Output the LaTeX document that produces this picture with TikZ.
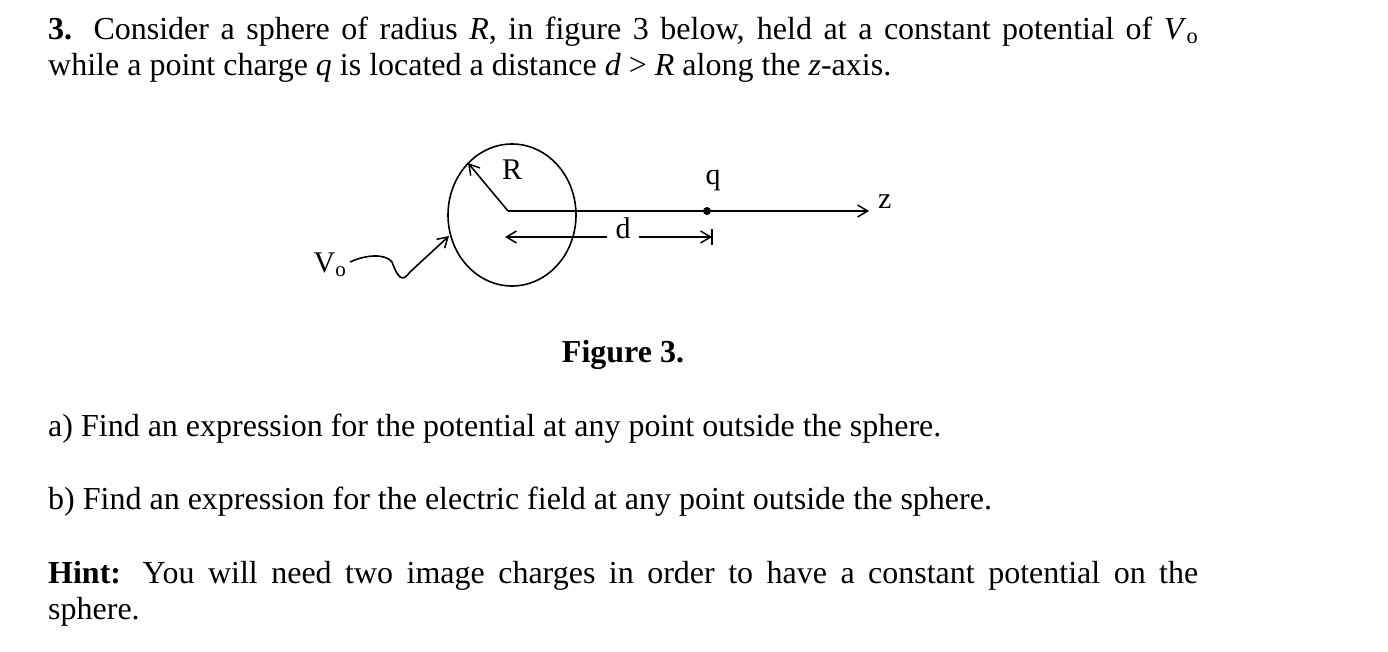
\documentclass[tikz,border=0pt]{standalone}
\usepackage{fontspec}
\setmainfont{Liberation Serif}
\usetikzlibrary{arrows.meta,decorations.pathmorphing}
\begin{document}
\begin{tikzpicture}[x=1pt,y=-1pt,
  txt/.style={anchor=base west,inner sep=0pt,font=\fontsize{32}{38}\selectfont},
  lbl/.style={inner sep=0pt,font=\fontsize{30}{34}\selectfont},
  ar/.style={-{Straight Barb[length=10pt,width=12pt,line width=1.5pt]},line width=1.6pt}]
\useasboundingbox (0,0) rectangle (1388,652);
\node[txt] (l1) at (48,40) {\makebox[1150pt][s]{\textbf{3.} Consider a sphere of radius \textit{R}, in figure 3 below, held at a constant potential of \textit{V}\textsubscript{o}}};
\node[txt] (l2) at (48,76) {while a point charge \textit{q} is located a distance \textit{d} > \textit{R} along the \textit{z}-axis.};
\node[txt,anchor=base] (cap) at (623,362) {\textbf{Figure 3.}};
\node[txt] (a) at (48,436) {a) Find an expression for the potential at any point outside the sphere.};
\node[txt] (b) at (48,509) {b) Find an expression for the electric field at any point outside the sphere.};
\node[txt] (h1) at (48,583) {\makebox[1150pt][s]{\textbf{Hint:} You will need two image charges in order to have a constant potential on the}};
\node[txt] (h2) at (48,619) {sphere.};
% figure
\coordinate (c) at (512,215);
\draw[line width=1.6pt] (c) ellipse (64 and 71);
\coordinate (o) at (508,211);
\coordinate (zend) at (869,211);
\draw[ar] (o) -- (zend);
\node[lbl,anchor=west] (z) at (878,202) {z};
\fill (707,211) circle (4) coordinate (qp);
\node[lbl] (q) at (713,180) {q};
\coordinate (rt) at (468,163);
\draw[ar] (o) -- (rt);
\node[lbl] (R) at (512,170) {R};
\node[lbl] (d) at (623,228) {d};
\coordinate (dl) at (505,237);
\coordinate (dr) at (712,237);
\draw[ar] (d.west) ++(-8,9) -- (dl);
\draw[ar] (d.east) ++(8,9) -- (dr);
\draw[line width=1.6pt] (712,229) -- (712,245);
\node[lbl] (V) at (330,265) {V\textsubscript{o}};
\coordinate (vs) at (350,262);
\coordinate (ve) at (449,236);
\draw[ar] (vs) .. controls (365,255) and (385,253) .. (392,262) .. controls (398,278) and (402,283) .. (410,272) -- (ve);
\end{tikzpicture}
\end{document}
